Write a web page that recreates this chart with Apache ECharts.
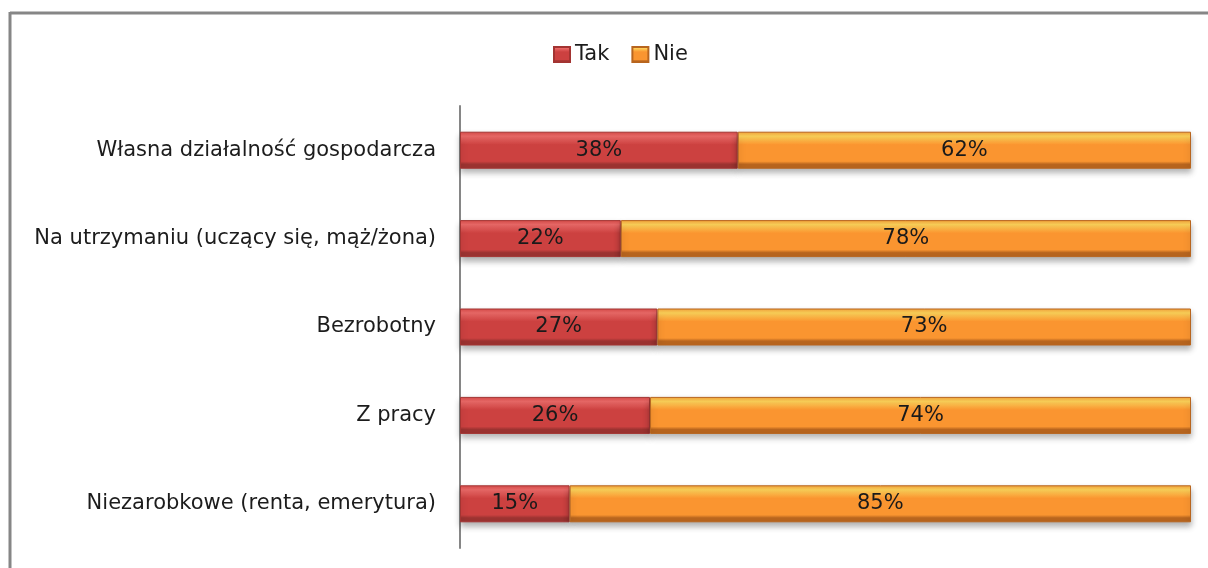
<!DOCTYPE html>
<html>
<head>
<meta charset="utf-8">
<script src="https://cdn.jsdelivr.net/npm/echarts@6/dist/echarts.min.js"></script>
<style>
  html, body { margin: 0; padding: 0; background: #fff; }
  #chart { width: 1208px; height: 568px; }
</style>
</head>
<body>
<div id="chart"></div>
<script>
// Categories (top to bottom) and shares in percent
const categories = [
  'Własna działalność gospodarcza',
  'Na utrzymaniu (uczący się, mąż/żona)',
  'Bezrobotny',
  'Z pracy',
  'Niezarobkowe (renta, emerytura)'
];
const takValues = [38, 22, 27, 26, 15];
const nieValues = [62, 78, 73, 74, 85];
const seriesNames = ['Tak', 'Nie'];

const FONT = '"DejaVu Sans", sans-serif';

function barGradient(top, light, main, dark) {
  return new echarts.graphic.LinearGradient(0, 0, 0, 1, [
    { offset: 0, color: top },
    { offset: 0.12, color: light },
    { offset: 0.35, color: main },
    { offset: 0.8, color: main },
    { offset: 0.88, color: dark },
    { offset: 1, color: dark }
  ]);
}

const redFill = barGradient('#d84a48', '#ee6b69', '#cc4140', '#9c3331');
const orangeFill = barGradient('#f5a23a', '#ffd45a', '#fa9530', '#b8651e');

const chart = echarts.init(document.getElementById('chart'), null, { renderer: 'canvas' });

chart.setOption({
  animation: false,
  backgroundColor: '#ffffff',
  graphic: [
    { type: 'line', shape: { x1: 10, y1: 13, x2: 1208, y2: 13 }, style: { stroke: '#868686', lineWidth: 3 } },
    { type: 'line', shape: { x1: 10, y1: 12, x2: 10, y2: 568 }, style: { stroke: '#868686', lineWidth: 3 } }
  ],
  legend: {
    data: seriesNames,
    left: 548,
    top: 39,
    icon: 'rect',
    itemWidth: 16,
    itemHeight: 15,
    itemGap: 22,
    textStyle: { fontFamily: FONT, fontSize: 21, color: '#1c1c1c' }
  },
  grid: { left: 460, right: 17, top: 106, bottom: 20 },
  xAxis: {
    type: 'value',
    min: 0,
    max: 100,
    show: false
  },
  yAxis: {
    type: 'category',
    data: categories,
    inverse: true,
    axisLine: { show: true, lineStyle: { color: '#868686', width: 2 } },
    axisTick: { show: false },
    axisLabel: { fontFamily: FONT, fontSize: 21, color: '#1c1c1c', margin: 24 }
  },
  series: [
    {
      name: seriesNames[0],
      type: 'bar',
      stack: 'total',
      barWidth: 37,
      data: takValues,
      itemStyle: {
        color: redFill,
        borderColor: '#a33432',
        borderWidth: 1,
        shadowColor: 'rgba(0,0,0,0.3)',
        shadowBlur: 6,
        shadowOffsetY: 4
      },
      label: { show: true, position: 'inside', formatter: '{c}%', fontFamily: FONT, fontSize: 21, color: '#1a1a1a' }
    },
    {
      name: seriesNames[1],
      type: 'bar',
      stack: 'total',
      barWidth: 37,
      data: nieValues,
      itemStyle: {
        color: orangeFill,
        borderColor: '#b8651e',
        borderWidth: 1,
        shadowColor: 'rgba(0,0,0,0.3)',
        shadowBlur: 6,
        shadowOffsetY: 4
      },
      label: { show: true, position: 'inside', formatter: '{c}%', fontFamily: FONT, fontSize: 21, color: '#1a1a1a' }
    }
  ]
});
</script>
</body>
</html>
